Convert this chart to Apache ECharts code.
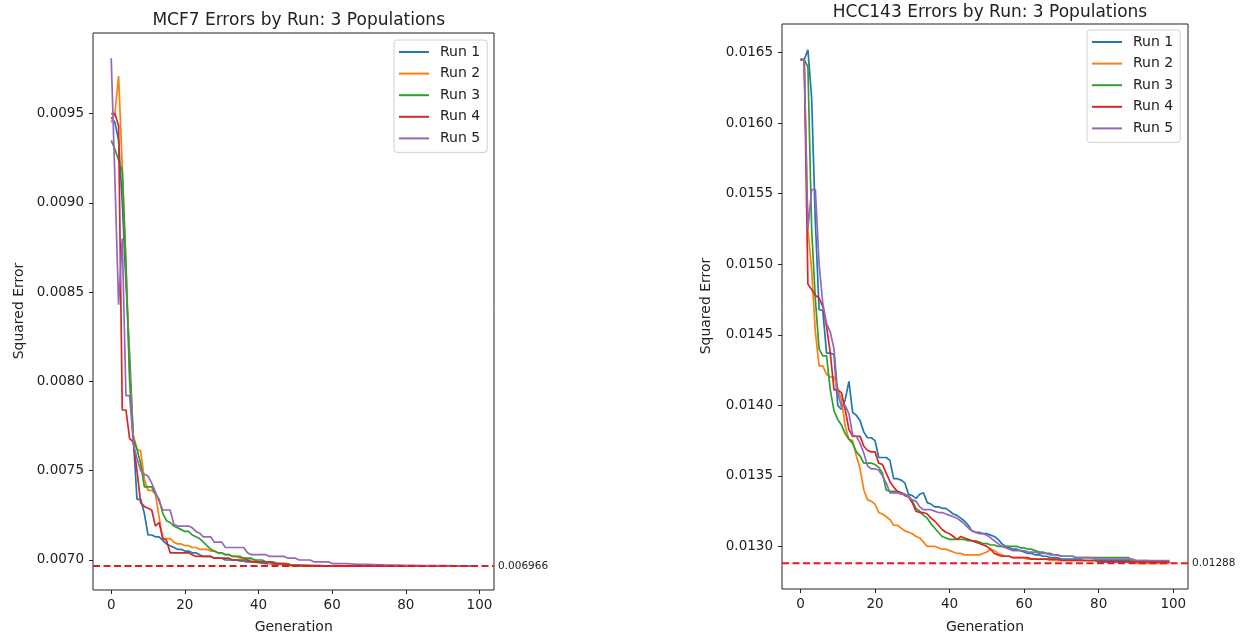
<!DOCTYPE html>
<html><head><meta charset="utf-8">
<script src="https://cdn.jsdelivr.net/npm/echarts@6/dist/echarts.min.js"></script>
<style>html,body{margin:0;padding:0;background:#fff}#c{width:1253px;height:639px}</style>
</head><body><div id="c"></div>
<script>
const runNames = ['Run 1', 'Run 2', 'Run 3', 'Run 4', 'Run 5'];
const runColors = ['#1f77b4', '#ff7f0e', '#2ca02c', '#d62728', '#9467bd'];
const xTicks = [0, 20, 40, 60, 80, 100];
const mcf7YTicks = [0.0070, 0.0075, 0.0080, 0.0085, 0.0090, 0.0095];
const hccYTicks = [0.0130, 0.0135, 0.0140, 0.0145, 0.0150, 0.0155, 0.0160, 0.0165];
const mcf7Ref = 0.006966;
const hccRef = 0.01288;

// MCF7 runs (generation 0..99)
const mcf7Run1 = [0.00948,0.00945,0.00935,0.00900,0.00855,0.00815,0.00768,0.00734,0.00734,0.00726,
0.00714,0.00714,0.00713,0.00713,0.00711,0.00709,0.00708,0.00707,0.00706,0.00706,
0.00705,0.00705,0.00704,0.00704,0.00703,0.00702,0.00702,0.00702,0.00701,0.00701,
0.00701,0.00700,0.00700,0.00700,0.00700,0.006995,0.006993,0.00699,0.00699,0.006988,
0.006985,0.006983,0.00698,0.00698,0.006978,0.006976,0.006975,0.006974,0.006973,0.006972,
0.006971,0.00697,0.00697,0.006969,0.006969,0.006968,0.006968,0.006968,0.006967,0.006967,
0.006967,0.006967,0.006967,0.006967,0.006966,0.006966,0.006966,0.006966,0.006966,0.006966,
0.006966,0.006966,0.006966,0.006966,0.006966,0.006966,0.006966,0.006966,0.006966,0.006966,
0.006966,0.006966,0.006966,0.006966,0.006966,0.006966,0.006966,0.006966,0.006966,0.006966,
0.006966,0.006966,0.006966,0.006966,0.006966,0.006966,0.006966,0.006966,0.006966,0.006966];
const mcf7Run2 = [0.00945,0.00950,0.00971,0.00920,0.00866,0.00805,0.00770,0.00762,0.00761,0.00745,
0.00739,0.00739,0.00737,0.00724,0.00712,0.00712,0.00712,0.00710,0.00709,0.00709,
0.00708,0.00708,0.00707,0.00707,0.00706,0.00706,0.00706,0.00705,0.00705,0.00704,
0.00704,0.00703,0.00703,0.00702,0.00702,0.00701,0.00701,0.00700,0.00700,0.00700,
0.00699,0.00699,0.00699,0.00698,0.00698,0.00698,0.00698,0.00697,0.00697,0.00697,
0.006969,0.006969,0.006968,0.006968,0.006968,0.006967,0.006967,0.006967,0.006967,0.006967,
0.006966,0.006966,0.006966,0.006966,0.006966,0.006966,0.006966,0.006966,0.006966,0.006966,
0.006966,0.006966,0.006966,0.006966,0.006966,0.006966,0.006966,0.006966,0.006966,0.006966,
0.006966,0.006966,0.006966,0.006966,0.006966,0.006966,0.006966,0.006966,0.006966,0.006966,
0.006966,0.006966,0.006966,0.006966,0.006966,0.006966,0.006966,0.006966,0.006966,0.006966];
const mcf7Run3 = [0.00935,0.00930,0.00924,0.00918,0.00865,0.00800,0.00768,0.00762,0.00754,0.00741,
0.00741,0.00741,0.00737,0.00734,0.00726,0.00722,0.00721,0.00719,0.00718,0.00717,
0.00716,0.00716,0.00714,0.00713,0.00712,0.00710,0.00708,0.00706,0.00705,0.00704,
0.00704,0.00703,0.00703,0.00702,0.00702,0.00702,0.00701,0.00701,0.00701,0.00700,
0.00700,0.00700,0.00699,0.00699,0.00699,0.00698,0.00698,0.00698,0.00698,0.00697,
0.00697,0.00697,0.006969,0.006969,0.006968,0.006968,0.006968,0.006967,0.006967,0.006967,
0.006967,0.006967,0.006966,0.006966,0.006966,0.006966,0.006966,0.006966,0.006966,0.006966,
0.006966,0.006966,0.006966,0.006966,0.006966,0.006966,0.006966,0.006966,0.006966,0.006966,
0.006966,0.006966,0.006966,0.006966,0.006966,0.006966,0.006966,0.006966,0.006966,0.006966,
0.006966,0.006966,0.006966,0.006966,0.006966,0.006966,0.006966,0.006966,0.006966,0.006966];
const mcf7Run4 = [0.00950,0.00950,0.00943,0.00784,0.00784,0.00768,0.00766,0.00750,0.00732,0.00730,
0.00729,0.00728,0.00719,0.00721,0.00712,0.00711,0.00704,0.00704,0.00704,0.00704,
0.00704,0.00704,0.00703,0.00702,0.00702,0.00702,0.00702,0.00702,0.00701,0.00701,
0.00701,0.00701,0.00701,0.00700,0.00700,0.00700,0.00700,0.00700,0.00699,0.00699,
0.00699,0.00699,0.00699,0.00699,0.00698,0.00698,0.00698,0.00698,0.00697,0.00697,
0.006969,0.006969,0.006968,0.006968,0.006967,0.006967,0.006967,0.006966,0.006966,0.006966,
0.006966,0.006966,0.006966,0.006966,0.006966,0.006966,0.006966,0.006966,0.006966,0.006966,
0.006966,0.006966,0.006966,0.006966,0.006966,0.006966,0.006966,0.006966,0.006966,0.006966,
0.006966,0.006966,0.006966,0.006966,0.006966,0.006966,0.006966,0.006966,0.006966,0.006966,
0.006966,0.006966,0.006966,0.006966,0.006966,0.006966,0.006966,0.006966,0.006966,0.006966];
const mcf7Run5 = [0.00981,0.00913,0.00843,0.00880,0.00792,0.00792,0.00765,0.00757,0.00750,0.00748,
0.00747,0.00743,0.00738,0.00733,0.00728,0.00728,0.00728,0.00720,0.00719,0.00719,
0.00719,0.00719,0.00718,0.00716,0.00715,0.00713,0.00713,0.00713,0.00710,0.00710,
0.00710,0.00707,0.00707,0.00707,0.00707,0.00707,0.00707,0.00704,0.00703,0.00703,
0.00703,0.00703,0.00703,0.00702,0.00702,0.00702,0.00702,0.00702,0.00701,0.00701,
0.00701,0.00700,0.00700,0.00700,0.00700,0.00699,0.00699,0.00699,0.00699,0.00699,
0.00698,0.00698,0.00698,0.00698,0.00698,0.006978,0.006977,0.006976,0.006975,0.006975,
0.006975,0.006974,0.006974,0.006973,0.006973,0.006972,0.006972,0.006971,0.006971,0.00697,
0.00697,0.00697,0.00697,0.00697,0.006969,0.006969,0.006969,0.006969,0.006968,0.006968,
0.006968,0.006968,0.006968,0.006967,0.006967,0.006967,0.006967,0.006967,0.006967,0.006967];

// HCC143 runs (generation 0..99)
const hccRun1 = [0.01645,0.01645,0.01652,0.01618,0.01530,0.01468,0.01467,0.01437,0.01437,0.01436,
0.01400,0.01397,0.01404,0.01417,0.01395,0.01393,0.01389,0.01381,0.01377,0.01377,
0.01375,0.01363,0.01363,0.01363,0.01361,0.01348,0.01348,0.01347,0.01345,0.01337,
0.01336,0.01334,0.01337,0.01338,0.01331,0.01330,0.01328,0.01328,0.01327,0.01327,
0.01325,0.01323,0.01322,0.01320,0.01318,0.01315,0.01311,0.01310,0.01310,0.01309,
0.01309,0.01308,0.01307,0.01305,0.01302,0.01300,0.01299,0.01298,0.01298,0.01297,
0.01296,0.01295,0.01295,0.01294,0.01294,0.01293,0.01293,0.01292,0.01292,0.01292,
0.01291,0.01291,0.01291,0.01291,0.01291,0.01291,0.01290,0.01290,0.01290,0.01290,
0.01290,0.01290,0.01290,0.01290,0.01290,0.01290,0.01290,0.01290,0.01290,0.01289,
0.01289,0.01289,0.01289,0.01289,0.01289,0.01289,0.01289,0.01289,0.01289,0.01289];
const hccRun2 = [0.01645,0.01645,0.01525,0.01496,0.01452,0.01428,0.01428,0.01422,0.01420,0.01420,
0.01412,0.01404,0.01385,0.01376,0.01375,0.01364,0.01355,0.01340,0.01333,0.01332,
0.01330,0.01324,0.01323,0.01321,0.01319,0.01315,0.01315,0.01313,0.01311,0.01310,
0.01309,0.01307,0.01306,0.01303,0.01300,0.01300,0.01300,0.01299,0.01298,0.01298,
0.01297,0.01296,0.01295,0.01295,0.01294,0.01294,0.01294,0.01294,0.01294,0.01295,
0.01296,0.01298,0.01297,0.01295,0.01294,0.01293,0.01293,0.01292,0.01292,0.01292,
0.01292,0.01291,0.01291,0.01291,0.01291,0.01291,0.01291,0.01290,0.01290,0.01290,
0.01290,0.01290,0.01290,0.01290,0.01290,0.01290,0.01290,0.01290,0.01290,0.01290,
0.01289,0.01289,0.01289,0.01289,0.01289,0.01289,0.01289,0.01289,0.01289,0.01289,
0.01288,0.01288,0.01288,0.01288,0.01288,0.01288,0.01288,0.01288,0.01288,0.01288];
const hccRun3 = [0.01645,0.01645,0.01640,0.01525,0.01475,0.01440,0.01435,0.01435,0.01411,0.01396,
0.01390,0.01386,0.01380,0.01376,0.01373,0.01367,0.01364,0.01359,0.01359,0.01359,
0.01358,0.01356,0.01352,0.01340,0.01339,0.01339,0.01339,0.01338,0.01337,0.01336,
0.01332,0.01327,0.01325,0.01322,0.01320,0.01316,0.01313,0.01310,0.01307,0.01306,
0.01305,0.01305,0.01305,0.01305,0.01305,0.01304,0.01304,0.01304,0.01303,0.01302,
0.01302,0.01301,0.01301,0.01300,0.01300,0.01300,0.01300,0.01300,0.01300,0.01299,
0.01299,0.01298,0.01298,0.01297,0.01296,0.01296,0.01295,0.01295,0.01294,0.01294,
0.01293,0.01293,0.01293,0.01293,0.01292,0.01292,0.01292,0.01292,0.01292,0.01292,
0.01292,0.01292,0.01292,0.01292,0.01292,0.01292,0.01292,0.01292,0.01292,0.01290,
0.01290,0.01290,0.01290,0.01290,0.01289,0.01289,0.01289,0.01289,0.01289,0.01289];
const hccRun4 = [0.01645,0.01645,0.01486,0.01482,0.01478,0.01476,0.01470,0.01456,0.01437,0.01411,
0.01411,0.01409,0.01397,0.01383,0.01378,0.01378,0.01378,0.01371,0.01368,0.01367,
0.01367,0.01359,0.01358,0.01352,0.01346,0.01342,0.01339,0.01338,0.01336,0.01335,
0.01331,0.01325,0.01324,0.01324,0.01323,0.01320,0.01318,0.01315,0.01312,0.01310,
0.01309,0.01307,0.01305,0.01307,0.01306,0.01305,0.01304,0.01303,0.01302,0.01301,
0.01300,0.01298,0.01295,0.01294,0.01293,0.01293,0.01293,0.01292,0.01292,0.01292,
0.01292,0.01292,0.01291,0.01291,0.01291,0.01291,0.01291,0.01291,0.01291,0.01291,
0.01290,0.01290,0.01290,0.01290,0.01290,0.01290,0.01290,0.01290,0.01290,0.01290,
0.01289,0.01289,0.01289,0.01289,0.01289,0.01289,0.01289,0.01289,0.01289,0.01289,
0.01289,0.01289,0.01289,0.01289,0.01289,0.01289,0.01289,0.01289,0.01289,0.01289];
const hccRun5 = [0.01645,0.01645,0.01525,0.01553,0.01553,0.01500,0.01472,0.01458,0.01452,0.01440,
0.01409,0.01399,0.01400,0.01394,0.01379,0.01378,0.01373,0.01366,0.01357,0.01355,
0.01355,0.01354,0.01350,0.01345,0.01338,0.01338,0.01338,0.01337,0.01337,0.01335,
0.01333,0.01332,0.01328,0.01326,0.01326,0.01326,0.01325,0.01324,0.01324,0.01323,
0.01322,0.01321,0.01320,0.01318,0.01316,0.01313,0.01311,0.01310,0.01309,0.01309,
0.01308,0.01306,0.01304,0.01302,0.01300,0.01299,0.01298,0.01297,0.01297,0.01297,
0.01297,0.01296,0.01296,0.01296,0.01295,0.01295,0.01295,0.01294,0.01294,0.01294,
0.01293,0.01293,0.01293,0.01293,0.01292,0.01292,0.01292,0.01292,0.01292,0.01291,
0.01291,0.01291,0.01291,0.01291,0.01291,0.01291,0.01291,0.01291,0.01291,0.01291,
0.01290,0.01290,0.01290,0.01290,0.01290,0.01290,0.01290,0.01290,0.01290,0.01290];

const mcf7Runs = [mcf7Run1, mcf7Run2, mcf7Run3, mcf7Run4, mcf7Run5];
const hccRuns = [hccRun1, hccRun2, hccRun3, hccRun4, hccRun5];

// axis extents (matplotlib default 5% margins)
const X_MIN = -4.95, X_MAX = 103.95;

const FONT = 'DejaVu Sans';
const TXT = '#222';

function pairs(arr) { return arr.map((v, i) => [i, v]); }

function makeSeries(runs, axisIdx, ref) {
  const out = runs.map((arr, k) => ({
    name: runNames[k], type: 'line', xAxisIndex: axisIdx, yAxisIndex: axisIdx,
    data: pairs(arr), showSymbol: false, symbol: 'none', silent: true,
    lineStyle: { width: 1.7, color: runColors[k] }, itemStyle: { color: runColors[k] },
    z: 2 + k
  }));
  out.push({
    name: 'ref' + axisIdx, type: 'line', xAxisIndex: axisIdx, yAxisIndex: axisIdx,
    data: [[X_MIN, ref], [X_MAX, ref]], showSymbol: false, symbol: 'none', silent: true, z: 10,
    lineStyle: { color: '#e41a1c', type: [7, 3.5], width: 2 },
    endLabel: { show: true, formatter: String(ref), distance: 4, fontFamily: FONT, fontSize: 10.5, color: TXT }
  });
  return out;
}

function xAxisDef(gridIndex) {
  return {
    type: 'value', gridIndex, min: X_MIN, max: X_MAX,
    splitLine: { show: false }, axisLine: { show: false, onZero: false },
    axisTick: { show: true, inside: false, length: 4, customValues: xTicks, lineStyle: { color: TXT } },
    axisLabel: { customValues: xTicks, fontFamily: FONT, fontSize: 13.5, color: TXT, margin: 8 }
  };
}
function yAxisDef(gridIndex, min, max, ticks) {
  return {
    type: 'value', gridIndex, min, max,
    splitLine: { show: false }, axisLine: { show: false, onZero: false },
    axisTick: { show: true, inside: false, length: 4, customValues: ticks, lineStyle: { color: TXT } },
    axisLabel: { customValues: ticks, fontFamily: FONT, fontSize: 13.5, color: TXT, margin: 9,
                 formatter: v => v.toFixed(4) }
  };
}

function legendDef(left, top) {
  return {
    left, top, orient: 'vertical', data: runNames, icon: 'rect',
    itemWidth: 30, itemHeight: 2, itemGap: 5.6, padding: [4, 7, 6, 5],
    borderColor: '#d0d0d0', borderWidth: 1, borderRadius: 3, backgroundColor: 'rgba(255,255,255,0.85)',
    selectedMode: false,
    textStyle: { fontFamily: FONT, fontSize: 14, lineHeight: 16, color: TXT, padding: [0, 0, 0, 6] }
  };
}

const chart = echarts.init(document.getElementById('c'), null, { renderer: 'canvas' });
chart.setOption({
  animation: false,
  backgroundColor: '#fff',
  title: [
    { text: 'MCF7 Errors by Run: 3 Populations', left: 293.7, top: 7, textAlign: 'center',
      textStyle: { fontFamily: FONT, fontSize: 17, fontWeight: 'normal', color: TXT } },
    { text: 'HCC143 Errors by Run: 3 Populations', left: 985, top: -1, textAlign: 'center',
      textStyle: { fontFamily: FONT, fontSize: 17, fontWeight: 'normal', color: TXT } }
  ],
  grid: [
    { left: 93, top: 33, width: 401, height: 557, show: true, borderColor: TXT, borderWidth: 1, backgroundColor: 'transparent' },
    { left: 782, top: 24, width: 406, height: 565, show: true, borderColor: TXT, borderWidth: 1, backgroundColor: 'transparent' }
  ],
  xAxis: [xAxisDef(0), xAxisDef(1)],
  yAxis: [yAxisDef(0, 0.006832, 0.009951, mcf7YTicks), yAxisDef(1, 0.012698, 0.016703, hccYTicks)],
  legend: [legendDef(394, 40), legendDef(1087, 30)],
  series: [...makeSeries(mcf7Runs, 0, mcf7Ref), ...makeSeries(hccRuns, 1, hccRef)],
  graphic: [
    { type: 'text', x: 19, y: 311, rotation: Math.PI / 2,
      style: { text: 'Squared Error', x: 0, y: 0, textAlign: 'center', textVerticalAlign: 'middle', font: '14px "DejaVu Sans"', fill: TXT } },
    { type: 'text', x: 706, y: 306, rotation: Math.PI / 2,
      style: { text: 'Squared Error', x: 0, y: 0, textAlign: 'center', textVerticalAlign: 'middle', font: '14px "DejaVu Sans"', fill: TXT } },
    { type: 'text', x: 293.7, y: 627,
      style: { text: 'Generation', x: 0, y: 0, textAlign: 'center', textVerticalAlign: 'middle', font: '14px "DejaVu Sans"', fill: TXT } },
    { type: 'text', x: 985, y: 627,
      style: { text: 'Generation', x: 0, y: 0, textAlign: 'center', textVerticalAlign: 'middle', font: '14px "DejaVu Sans"', fill: TXT } }
  ]
});
</script>
</body></html>
